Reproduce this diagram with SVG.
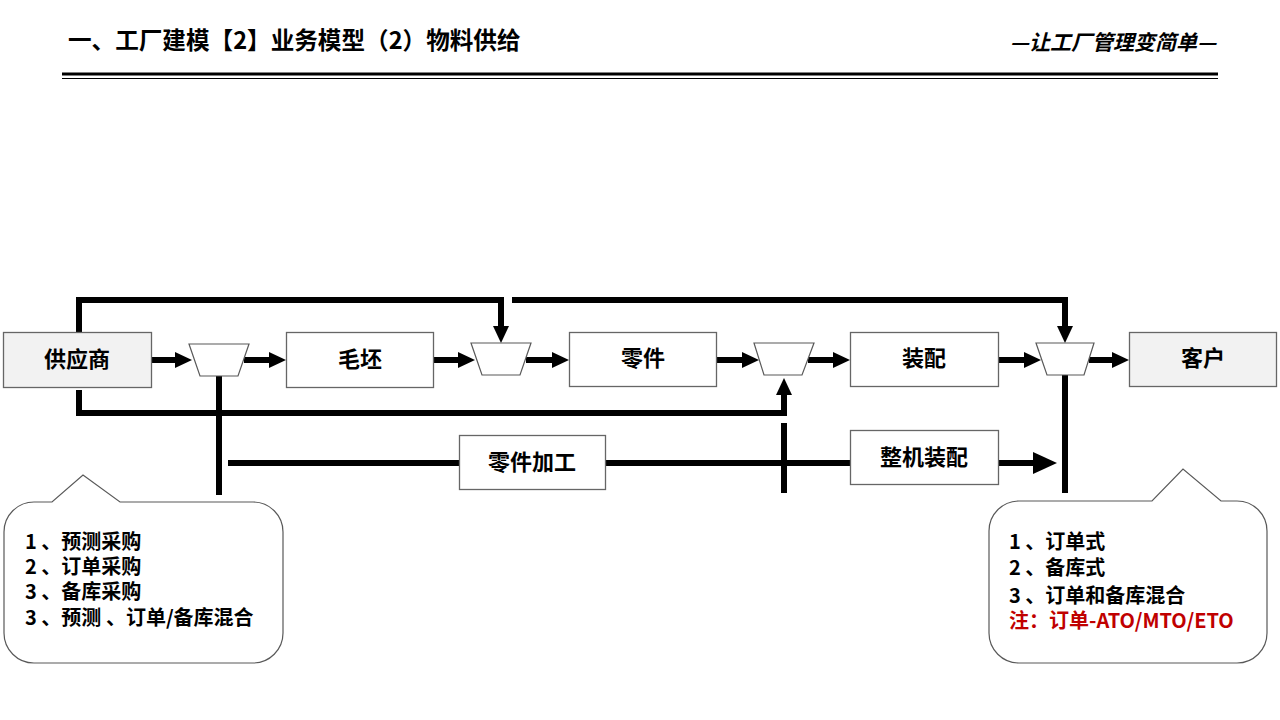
<svg xmlns="http://www.w3.org/2000/svg" width="1280" height="720" viewBox="0 0 1280 720">
<style>
text{font-family:"Noto Sans CJK SC","Microsoft YaHei",sans-serif;font-weight:700;fill:#000}
.box{fill:#fff;stroke:#666;stroke-width:1.3}
.end{fill:#f2f2f2;stroke:#666;stroke-width:1.3}
.trap{fill:#fff;stroke:#595959;stroke-width:1.2}
.lbl{font-size:22px;text-anchor:middle}
.ln{fill:none;stroke:#000;stroke-width:6}
.call{fill:#fff;stroke:#595959;stroke-width:1.2}
.ct{font-size:20px}
</style>
<defs>
<marker id="ah" markerWidth="17" markerHeight="16" refX="9" refY="8" orient="auto" markerUnits="userSpaceOnUse"><path d="M0 0 L17 8 L0 16z" fill="#000"/></marker>
<marker id="ahb" markerWidth="24" markerHeight="24" refX="12" refY="12" orient="auto" markerUnits="userSpaceOnUse"><path d="M0 1 L24 12 L0 23z" fill="#000"/></marker>
</defs>

<g id="header">
<text x="68" y="49" style="font-size:23.6px">一、工厂建模【2】业务模型（2）物料供给</text>
<text x="1216" y="50" style="font-size:21px;font-style:italic;text-anchor:end">—让工厂管理变简单—</text>
<line x1="62" y1="74" x2="1218" y2="74" stroke="#000" stroke-width="3"/>
<line x1="62" y1="78.5" x2="1218" y2="78.5" stroke="#000" stroke-width="1.2"/>
</g>

<g id="connectors">
<path class="ln" d="M152 360 H184" marker-end="url(#ah)"/>
<path class="ln" d="M244 360 H278" marker-end="url(#ah)"/>
<path class="ln" d="M434 360 H467" marker-end="url(#ah)"/>
<path class="ln" d="M526 360 H561" marker-end="url(#ah)"/>
<path class="ln" d="M716 360 H751" marker-end="url(#ah)"/>
<path class="ln" d="M808 360 H842" marker-end="url(#ah)"/>
<path class="ln" d="M998 360 H1033" marker-end="url(#ah)"/>
<path class="ln" d="M1089 360 H1121" marker-end="url(#ah)"/>
<path class="ln" d="M79 332 V300 H501 V335" marker-end="url(#ah)"/>
<path class="ln" d="M512 300 H1065 V335" marker-end="url(#ah)"/>
<path class="ln" d="M79 390 V413 H784 V386" marker-end="url(#ah)"/>
<path class="ln" d="M219 376 V495"/>
<path class="ln" d="M228 463 H459"/>
<path class="ln" d="M605 463 H850"/>
<path class="ln" d="M784 423 V493"/>
<path class="ln" d="M998 463 H1045" marker-end="url(#ahb)"/>
<path class="ln" d="M1065 375 V493"/>
</g>

<g id="supplier"><rect class="end" x="3.5" y="332.5" width="148" height="55"/><text class="lbl" x="77" y="367">供应商</text></g>
<g id="gate1"><polygon class="trap" points="189,344 249,344 238,376 200,376"/></g>
<g id="blank"><rect class="box" x="286.5" y="332.5" width="147" height="55"/><text class="lbl" x="360" y="367">毛坯</text></g>
<g id="gate2"><polygon class="trap" points="471,343 531,343 520,375 482,375"/></g>
<g id="parts"><rect class="box" x="569.5" y="332.5" width="147" height="54"/><text class="lbl" x="643" y="366">零件</text></g>
<g id="gate3"><polygon class="trap" points="754,343 814,343 802,375 764,375"/></g>
<g id="assembly"><rect class="box" x="850.5" y="332.5" width="148" height="54"/><text class="lbl" x="924" y="366">装配</text></g>
<g id="gate4"><polygon class="trap" points="1036,343 1094,343 1084,375 1047,375"/></g>
<g id="customer"><rect class="end" x="1129.5" y="332.5" width="147" height="54"/><text class="lbl" x="1203" y="366">客户</text></g>
<g id="machining"><rect class="box" x="459.5" y="435.5" width="146" height="54"/><text class="lbl" x="532" y="470">零件加工</text></g>
<g id="final-assembly"><rect class="box" x="850.5" y="430.5" width="148" height="54"/><text class="lbl" x="924" y="465">整机装配</text></g>

<g id="callout-left">
<path class="call" d="M34 502 H52 L83 475 L120 502 H253 A30 30 0 0 1 283 532 V633 A30 30 0 0 1 253 663 H34 A30 30 0 0 1 4 633 V532 A30 30 0 0 1 34 502 Z"/>
<text class="ct" x="25" y="549">1 、预测采购</text>
<text class="ct" x="25" y="574">2 、订单采购</text>
<text class="ct" x="25" y="599">3 、备库采购</text>
<text class="ct" x="25" y="625">3 、预测 、订单/备库混合</text>
</g>

<g id="callout-right">
<path class="call" d="M1019 501 H1152 L1183 469 L1221 501 H1237 A30 30 0 0 1 1267 531 V633 A30 30 0 0 1 1237 663 H1019 A30 30 0 0 1 989 633 V531 A30 30 0 0 1 1019 501 Z"/>
<text class="ct" x="1009" y="549">1 、订单式</text>
<text class="ct" x="1009" y="575">2 、备库式</text>
<text class="ct" x="1009" y="603">3 、订单和备库混合</text>
<text class="ct" x="1009" y="628" style="fill:#c00000">注：订单-ATO/MTO/ETO</text>
</g>
</svg>
